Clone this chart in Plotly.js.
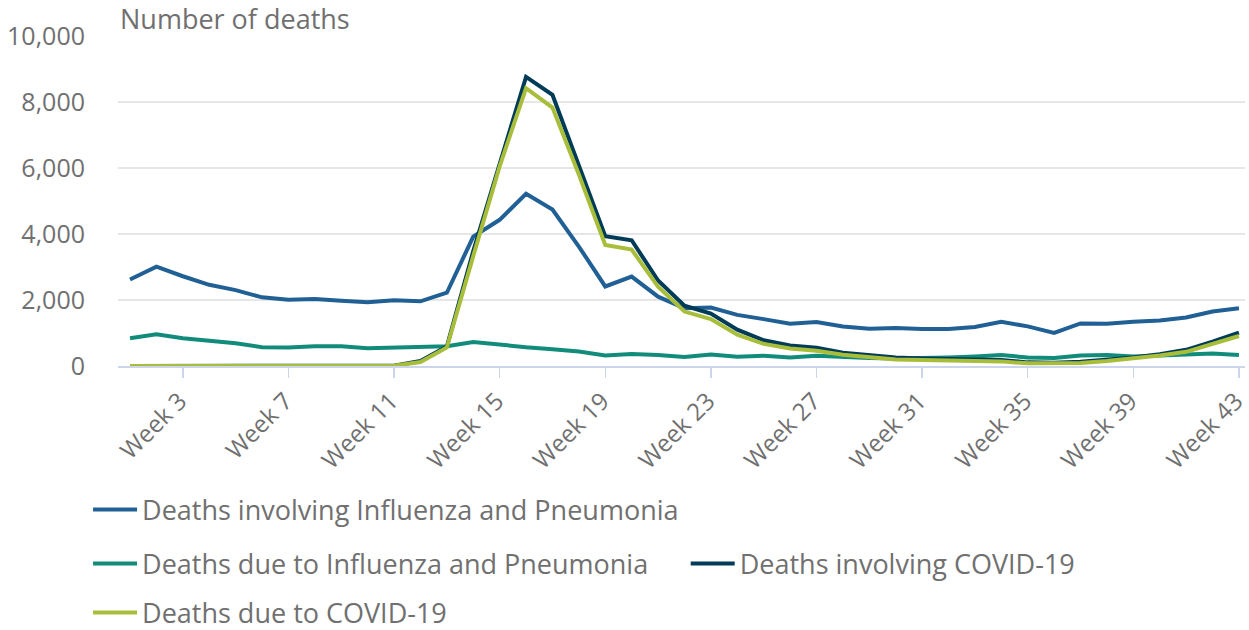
<!DOCTYPE html>
<html>
<head>
<meta charset="utf-8">
<script src="https://cdn.plot.ly/plotly-3.0.1.min.js"></script>
<style>
  html, body { margin: 0; padding: 0; background: #ffffff; }
  #chart { width: 1249px; height: 630px; }
</style>
</head>
<body>
<div id="chart"></div>
<script>
const weeks = ["Week 1","Week 2","Week 3","Week 4","Week 5","Week 6","Week 7","Week 8","Week 9","Week 10",
  "Week 11","Week 12","Week 13","Week 14","Week 15","Week 16","Week 17","Week 18","Week 19","Week 20",
  "Week 21","Week 22","Week 23","Week 24","Week 25","Week 26","Week 27","Week 28","Week 29","Week 30",
  "Week 31","Week 32","Week 33","Week 34","Week 35","Week 36","Week 37","Week 38","Week 39","Week 40",
  "Week 41","Week 42","Week 43"];

const tickWeeks = ["Week 3","Week 7","Week 11","Week 15","Week 19","Week 23","Week 27","Week 31","Week 35","Week 39","Week 43"];

const involvingFluPneumonia = [2620,3010,2720,2460,2300,2080,2010,2030,1980,1930,
  1990,1960,2220,3920,4430,5220,4740,3620,2410,2710,
  2100,1750,1770,1550,1420,1280,1330,1200,1130,1150,
  1120,1120,1180,1340,1200,1000,1290,1280,1340,1380,
  1470,1650,1750];

const dueToFluPneumonia = [840,960,840,760,690,570,560,600,600,540,
  560,610,600,730,640,570,510,440,320,360,
  330,270,350,280,310,260,310,260,240,230,
  230,260,290,330,260,240,320,330,290,330,
  350,380,330];

const involvingCovid = [0,0,0,0,0,0,0,0,0,0,
  10,150,590,3480,6150,8760,8220,6100,3930,3810,
  2590,1830,1590,1100,780,620,550,400,330,260,
  230,210,190,180,110,100,130,180,260,360,
  490,740,1010];

const dueToCovid = [0,0,0,0,0,0,0,0,0,0,
  5,120,560,3330,6050,8420,7830,5800,3670,3530,
  2400,1650,1420,950,670,530,460,340,270,200,
  180,160,150,140,80,80,90,150,230,320,
  430,670,910];

const seriesNames = ["Deaths involving Influenza and Pneumonia",
  "Deaths due to Influenza and Pneumonia",
  "Deaths involving COVID-19",
  "Deaths due to COVID-19"];

const seriesColors = ["#206095", "#118c7b", "#003c57", "#a8bd3a"];
const seriesData = [involvingFluPneumonia, dueToFluPneumonia, involvingCovid, dueToCovid];
const legendIds = ["legend", "legend2", "legend3", "legend4"];

const traces = seriesData.map((vals, i) => ({
  type: "scatter",
  mode: "lines",
  x: weeks,
  y: vals,
  name: seriesNames[i],
  line: { color: seriesColors[i], width: 4 },
  legend: legendIds[i],
  hoverinfo: "skip"
}));

const font = "'Open Sans', 'Noto Sans', sans-serif";
const grey = "#707070";
const legendFont = { family: font, size: 27, color: grey };

function legendAt(x, y) {
  return {
    x: x, y: y, xref: "container", yref: "container",
    xanchor: "left", yanchor: "middle",
    orientation: "h",
    itemwidth: 44,
    bgcolor: "rgba(0,0,0,0)",
    font: legendFont,
    itemclick: false, itemdoubleclick: false
  };
}

const layout = {
  width: 1249,
  height: 630,
  margin: { l: 118, r: 4, t: 36, b: 264, autoexpand: false },
  paper_bgcolor: "#ffffff",
  plot_bgcolor: "#ffffff",
  font: { family: font, color: grey },
  showlegend: true,
  xaxis: {
    type: "category",
    range: [-0.455, 42.23],
    tickmode: "array",
    tickvals: tickWeeks,
    ticktext: tickWeeks,
    tickangle: -45,
    ticks: "outside",
    ticklen: 10,
    tickwidth: 1.5,
    tickcolor: "#ccd6eb",
    showline: true,
    linecolor: "#ccd6eb",
    linewidth: 1.5,
    showgrid: false,
    zeroline: false,
    automargin: false,
    ticklabelshift: -3,
    tickfont: { family: font, size: 24, color: grey }
  },
  yaxis: {
    range: [0, 10000],
    tickmode: "linear",
    tick0: 0,
    dtick: 2000,
    tickformat: ",d",
    showgrid: true,
    gridcolor: "#e6e6e6",
    gridwidth: 1.5,
    zeroline: false,
    showline: false,
    ticks: "",
    automargin: false,
    ticklabelstandoff: 32,
    tickfont: { family: font, size: 25, color: grey }
  },
  legend: legendAt(0.0705, 1 - 510 / 630),
  legend2: legendAt(0.0705, 1 - 564 / 630),
  legend3: legendAt(0.549, 1 - 564 / 630),
  legend4: legendAt(0.0705, 1 - 613 / 630),
  annotations: [{
    text: "Number of deaths",
    xref: "paper", yref: "paper",
    x: 0, y: 1, xanchor: "left", yanchor: "bottom",
    yshift: -3,
    showarrow: false,
    font: { family: font, size: 27, color: grey }
  }]
};

Plotly.newPlot("chart", traces, layout, { displayModeBar: false, staticPlot: true });
</script>
</body>
</html>
